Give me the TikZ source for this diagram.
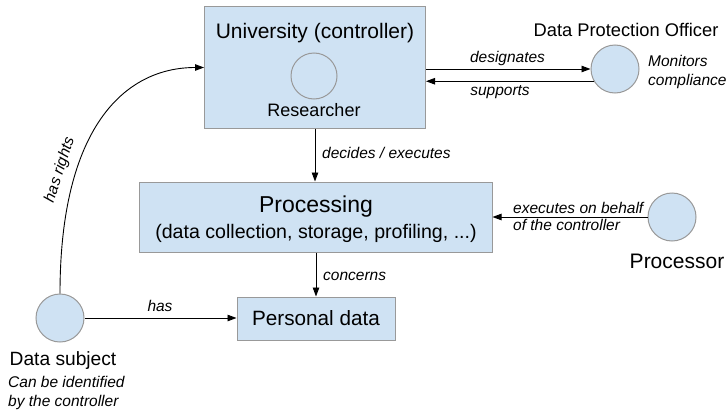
\documentclass[tikz,border=0pt]{standalone}
\usepackage{fontspec}
\setmainfont{Liberation Sans}
\usetikzlibrary{arrows.meta}
\definecolor{boxfill}{HTML}{CFE2F3}
\definecolor{boxline}{HTML}{999999}
\begin{document}
\begin{tikzpicture}[x=1pt,y=-1pt,
  box/.style={draw=boxline, fill=boxfill, line width=1pt, inner sep=0pt},
  circ/.style={circle, draw=boxline, fill=boxfill, line width=1pt, minimum size=48pt, inner sep=0pt},
  conn/.style={draw=black, line width=0.9pt, -{Triangle[length=9pt,width=6.5pt]}},
  lbl/.style={font=\fontsize{15.5}{19}\selectfont\itshape, inner sep=0pt},
  txt/.style={inner sep=0pt}
]
\useasboundingbox (0,0) rectangle (727,412);

% University box
\node[box, minimum width=221pt, minimum height=121pt] (univ) at (315,67.5) {};
\node[txt, font=\fontsize{21}{24}\selectfont] (univt) at (315,33) {University (controller)};
\node[circle, draw=boxline, line width=1pt, minimum size=46pt, inner sep=0pt] (res) at (314,76) {};
\node[txt, font=\fontsize{18}{21}\selectfont] (rest) at (314,110) {Researcher};

% Processing box
\node[box, minimum width=353pt, minimum height=70pt] (proc) at (315.5,217) {};
\node[txt, font=\fontsize{23}{26}\selectfont] (proct1) at (316,207) {Processing};
\node[txt, font=\fontsize{19.6}{22}\selectfont] (proct2) at (316,233) {(data collection, storage, profiling, ...)};

% Personal data
\node[box, minimum width=158pt, minimum height=43pt, font=\fontsize{20.7}{24}\selectfont] (pd) at (316,318.5) {Personal data};

% Data Protection Officer
\node[circ] (dpo) at (615,69) {};
\node[txt, font=\fontsize{18.3}{21}\selectfont] (dpot) at (626,30) {Data Protection Officer};
\node[lbl, align=left, anchor=west] (mon) at (648,72) {Monitors\\compliance};

% Processor
\node[circ] (procr) at (672,217) {};
\node[txt, font=\fontsize{21}{24}\selectfont] (procrt) at (677,261) {Processor};

% Data subject
\node[circ] (ds) at (60,318) {};
\node[txt, font=\fontsize{19.2}{22}\selectfont] (dst) at (63,361) {Data subject};
\node[lbl, align=left, anchor=west] (dsl) at (8,392.5) {Can be identified\\by the controller};

% Connectors
\draw[conn] (univ.east |- dpo.west) -- (dpo.west);
\node[lbl] (desl) at (507.5,58) {designates};
\draw[conn] (dpo.210) -- (univ.east |- dpo.210);
\node[lbl] (supl) at (500,92) {supports};

\draw[conn] (univ.south) -- (univ.south |- proc.north);
\node[lbl, anchor=west] (decl) at (322,153) {decides / executes};

\draw[conn] (proc.south -| pd.north) -- (pd.north);
\node[lbl, anchor=west] (conl) at (323,276) {concerns};

\draw[conn] (procr.west) -- (procr.west -| proc.east);
\node[lbl, anchor=west, align=left, font=\fontsize{15.5}{17}\selectfont\itshape] (exl) at (513,216.5) {executes on behalf\\of the controller};

\draw[conn] (ds.east) -- (ds.east -| pd.west);
\node[lbl] (hasl) at (160,306) {has};

\draw[conn] (ds.north) .. controls +(0,-165) and +(-80,0) .. (univ.west);
\node[lbl, rotate=72] (hrl) at (60,170) {has rights};
\end{tikzpicture}
\end{document}
